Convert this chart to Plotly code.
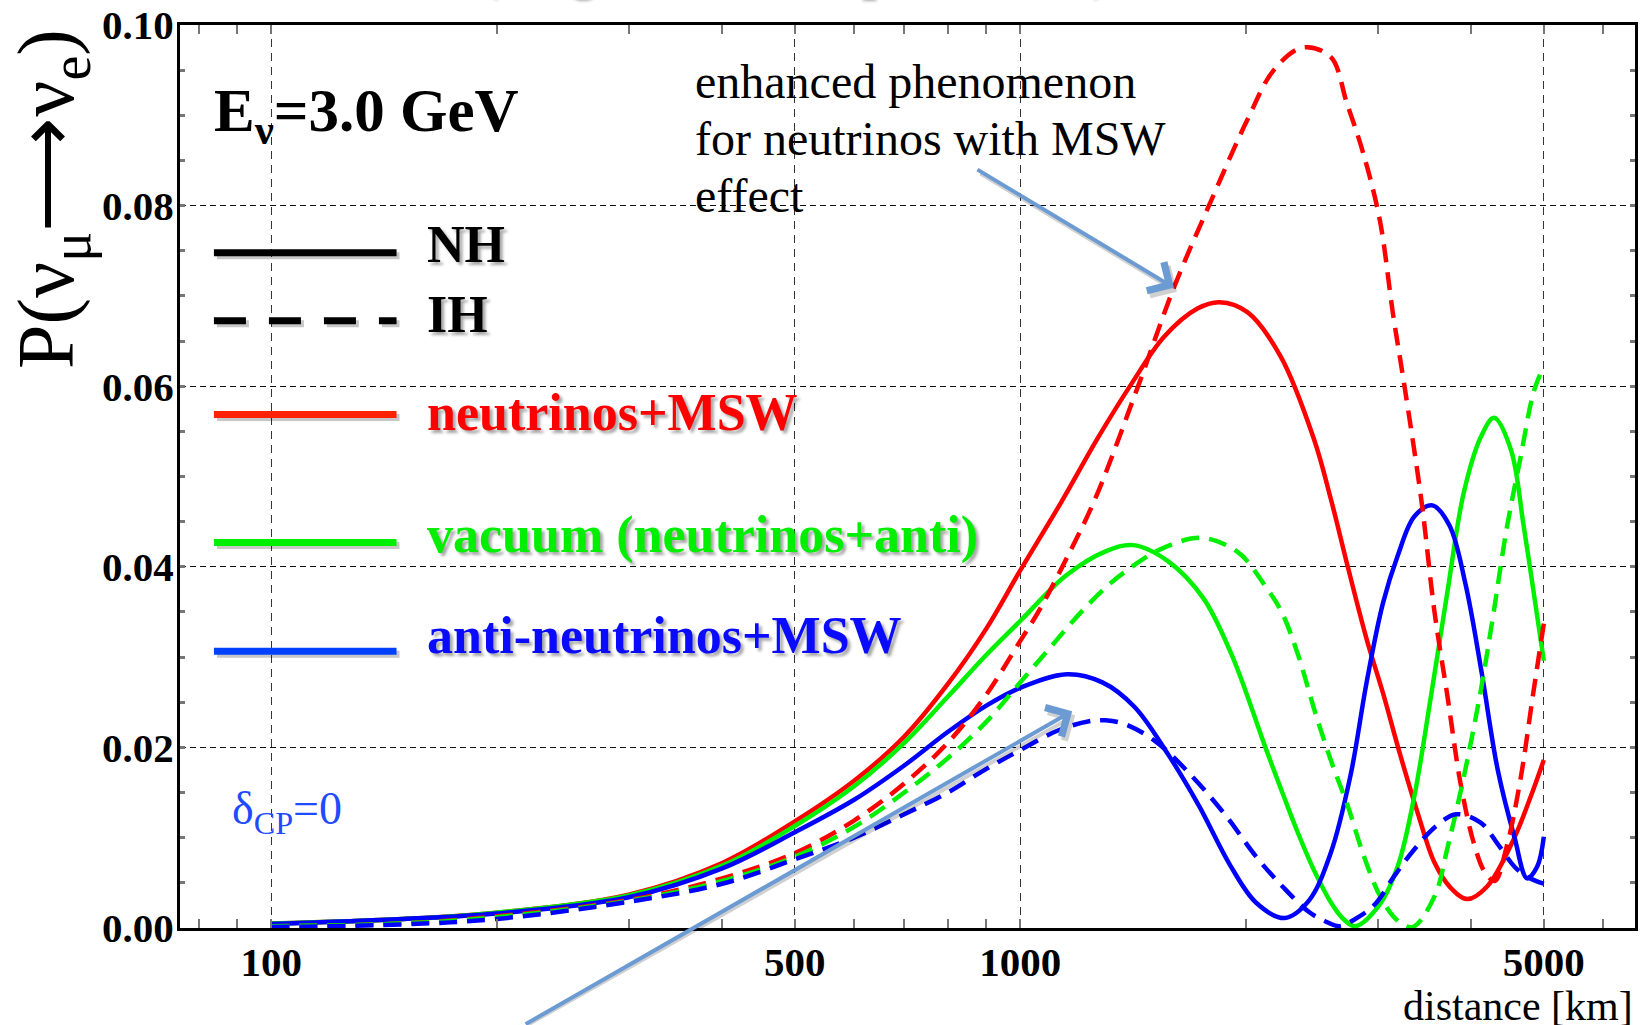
import plotly.graph_objects as go

# ---------------- data ----------------
x_tick_vals = [100, 500, 1000, 5000]
x_tick_text = ["100", "500", "1000", "5000"]
x_minor_vals = [80, 90, 200, 300, 400, 600, 700, 800, 900, 2000, 3000, 4000, 6000]
y_tick_vals = [0.0, 0.02, 0.04, 0.06, 0.08, 0.10]
y_tick_text = ["0.00", "0.02", "0.04", "0.06", "0.08", "0.10"]

# neutrinos + MSW, normal hierarchy (red solid)
red_nh_L = [100, 150, 200, 300, 400, 500, 600, 700, 800, 900, 1000, 1135, 1270, 1406, 1557,
            1724, 1845, 2010, 2226, 2465, 2600, 2737, 2900, 3050, 3220, 3400, 3570, 3750,
            3950, 4200, 4550, 4800, 5000]
red_nh_P = [0.0005, 0.0010, 0.0017, 0.0037, 0.0072, 0.0118, 0.0163, 0.0212, 0.0270, 0.0331,
            0.0396, 0.0472, 0.0543, 0.0602, 0.0655, 0.0686, 0.0693, 0.0682, 0.0633, 0.0542,
            0.0474, 0.0400, 0.0320, 0.0260, 0.0190, 0.0125, 0.0073, 0.0045, 0.0032, 0.0046,
            0.0097, 0.0145, 0.0186]

# neutrinos + MSW, inverted hierarchy (red dashed)
red_ih_L = [100, 150, 200, 300, 400, 500, 600, 700, 800, 900, 1000, 1057, 1146, 1257, 1435,
            1605, 1797, 2010, 2180, 2380, 2595, 2730, 2870, 3020, 3145, 3258, 3430, 3573,
            3719, 3873, 4035, 4170, 4300, 4460, 4650, 4840, 5000]
red_ih_P = [0.0002, 0.0005, 0.0013, 0.0031, 0.0055, 0.0083, 0.0119, 0.0160, 0.0205, 0.0258,
            0.0318, 0.0350, 0.0405, 0.0474, 0.0599, 0.0710, 0.0805, 0.0895, 0.0950, 0.0975,
            0.0965, 0.0913, 0.0858, 0.0784, 0.0680, 0.0600, 0.0475, 0.0350, 0.0256, 0.0159,
            0.0093, 0.0062, 0.0052, 0.0090, 0.0163, 0.0260, 0.0337]

# vacuum, normal hierarchy (green solid)
green_nh_L = [100, 150, 200, 300, 400, 500, 600, 700, 800, 900, 1000, 1150, 1300, 1415, 1576,
              1756, 1910, 2000, 2114, 2250, 2341, 2470, 2600, 2700, 2800, 3013, 3193, 3360,
              3533, 3719, 3909, 4121, 4290, 4518, 4700, 4900, 5000]
green_nh_P = [0.0005, 0.0010, 0.0017, 0.0036, 0.0069, 0.0113, 0.0157, 0.0205, 0.0256, 0.0302,
              0.0340, 0.0390, 0.0417, 0.0424, 0.0406, 0.0365, 0.0305, 0.0262, 0.0205, 0.0145,
              0.0108, 0.0063, 0.0028, 0.0010, 0.0002, 0.0025, 0.0069, 0.0147, 0.0256, 0.0373,
              0.0482, 0.0544, 0.0565, 0.0530, 0.0445, 0.0345, 0.0296]

# vacuum, inverted hierarchy (green dashed)
green_ih_L = [100, 150, 200, 300, 400, 500, 600, 700, 800, 900, 1000, 1100, 1203, 1300, 1377,
              1535, 1745, 1954, 2118, 2233, 2350, 2473, 2600, 2737, 2880, 3033, 3193, 3340,
              3573, 3719, 3909, 4121, 4286, 4462, 4652, 4852, 5000]
green_ih_P = [0.0002, 0.0005, 0.0012, 0.0030, 0.0052, 0.0079, 0.0112, 0.0150, 0.0188, 0.0228,
              0.0272, 0.0312, 0.0349, 0.0377, 0.0394, 0.0419, 0.0432, 0.0416, 0.0380, 0.0350,
              0.0302, 0.0240, 0.0185, 0.0135, 0.0078, 0.0033, 0.0008, 0.0001, 0.0035, 0.0089,
              0.0167, 0.0264, 0.0350, 0.0443, 0.0520, 0.0595, 0.0622]

# anti-neutrinos + MSW, normal hierarchy (blue solid)
blue_nh_L = [100, 150, 200, 300, 400, 500, 600, 700, 800, 900, 1000, 1155, 1287, 1420, 1576,
             1733, 1905, 2065, 2253, 2427, 2597, 2760, 2900, 3050, 3190, 3360, 3550, 3740,
             3930, 4130, 4340, 4570, 4750, 4900, 5000]
blue_nh_P = [0.00045, 0.0010, 0.0016, 0.0034, 0.0066, 0.0106, 0.0142, 0.0180, 0.0217, 0.0246,
             0.0266, 0.0281, 0.0272, 0.0245, 0.0192, 0.0135, 0.0070, 0.0028, 0.0011, 0.0030,
             0.0083, 0.0169, 0.0272, 0.0360, 0.0412, 0.0456, 0.0468, 0.0446, 0.0381, 0.0283,
             0.0175, 0.0100, 0.0055, 0.0068, 0.0101]

# anti-neutrinos + MSW, inverted hierarchy (blue dashed)
blue_ih_L = [100, 150, 200, 300, 400, 500, 600, 700, 800, 900, 1000, 1125, 1236, 1300, 1377,
             1514, 1687, 1879, 2065, 2239, 2427, 2560, 2667, 2800, 2973, 3160, 3357, 3592,
             3820, 4113, 4340, 4580, 4769, 5000]
blue_ih_P = [0.0001, 0.0004, 0.0010, 0.0029, 0.0049, 0.0076, 0.0100, 0.0126, 0.0150, 0.0176,
             0.0197, 0.0219, 0.0229, 0.0230, 0.0226, 0.0207, 0.0170, 0.0125, 0.0079, 0.0046,
             0.0018, 0.0007, 0.0002, 0.0010, 0.0026, 0.0058, 0.0087, 0.0113, 0.0126, 0.0117,
             0.0093, 0.0067, 0.0056, 0.0049]

legend_labels = ["NH", "IH", "neutrinos+MSW", "vacuum (neutrinos+anti)", "anti-neutrinos+MSW"]
note_lines = ["enhanced phenomenon", "for neutrinos with MSW", "effect"]

# ---------------- layout geometry ----------------
W, H = 1640, 1025
ML, MR, MT, MB = 180, 2, 24, 97
PW = W - ML - MR
PH = H - MT - MB


def fx(px):
    return (px - ML) / PW


def fy(py):
    return (H - MB - py) / PH


SERIF = "Liberation Serif"
RED, GREEN, BLUE = "#FF0000", "#00F000", "#0000FF"
DASH = "18px,10px"

fig = go.Figure()

series = [
    (red_nh_L, red_nh_P, RED, "solid"),
    (green_nh_L, green_nh_P, GREEN, "solid"),
    (blue_nh_L, blue_nh_P, BLUE, "solid"),
    (red_ih_L, red_ih_P, RED, DASH),
    (green_ih_L, green_ih_P, GREEN, DASH),
    (blue_ih_L, blue_ih_P, BLUE, DASH),
]
for xs, ys, col, dash in series:
    fig.add_trace(go.Scatter(
        x=xs, y=ys, mode="lines",
        line=dict(color=col, width=4.5, dash=dash, shape="spline", smoothing=1.0),
        showlegend=False, hoverinfo="skip"))

tickfont = dict(family=SERIF, size=41, color="black", weight="bold")

fig.update_layout(
    width=W, height=H,
    margin=dict(l=ML, r=MR, t=MT, b=MB, pad=0),
    paper_bgcolor="white", plot_bgcolor="white",
    showlegend=False,
    xaxis=dict(
        type="log", range=[1.8782, 3.8207],
        tickmode="array", tickvals=x_tick_vals, ticktext=x_tick_text,
        tickfont=tickfont, ticklabelstandoff=-4,
        showgrid=True, gridcolor="#333333", gridwidth=1, griddash="8px,6px",
        showline=True, linecolor="black", linewidth=3, mirror="allticks",
        ticks="inside", ticklen=9, tickcolor="#777777", tickwidth=1.5,
        minor=dict(tickvals=x_minor_vals, ticks="inside", ticklen=9,
                   tickcolor="#777777", tickwidth=1.5, showgrid=False),
        zeroline=False,
    ),
    yaxis=dict(
        range=[0, 0.1],
        tickmode="array", tickvals=y_tick_vals, ticktext=y_tick_text,
        tickfont=tickfont, ticklabelstandoff=-5,
        showgrid=True, gridcolor="#111111", gridwidth=1.2, griddash="6px,4px",
        showline=True, linecolor="black", linewidth=3, mirror="allticks",
        ticks="inside", ticklen=5, tickcolor="#777777", tickwidth=3,
        minor=dict(dtick=0.005, ticks="inside", ticklen=5,
                   tickcolor="#777777", tickwidth=3, showgrid=False),
        zeroline=False,
    ),
)

shadow = "3px 3px 3px rgba(0,0,0,0.35)"
annotations = []
shapes = []

# cut-off orange title at very top (only its lower edge is visible)
annotations.append(dict(
    text="(long baseline experiments)", xref="paper", yref="paper",
    x=fx(794), y=fy(-1), xanchor="center", yanchor="bottom", showarrow=False,
    font=dict(family=SERIF, size=54, color="#F39019", weight="bold", shadow=shadow)))

# y-axis title
annotations.append(dict(
    text="P(ν<sub>μ</sub>⟶ν<sub>e</sub>)", xref="paper", yref="paper",
    x=fx(52), y=fy(198), xanchor="center", yanchor="middle", textangle=-90,
    showarrow=False, font=dict(family=SERIF, size=80, color="black")))

# x-axis title
annotations.append(dict(
    text="distance [km]", xref="paper", yref="paper",
    x=fx(1638), y=fy(1006), xanchor="right", yanchor="middle", showarrow=False,
    font=dict(family=SERIF, size=42, color="black")))

# energy label
annotations.append(dict(
    text="E<sub>ν</sub>=3.0 GeV", xref="paper", yref="paper",
    x=fx(212), y=fy(114), xanchor="left", yanchor="middle", showarrow=False,
    font=dict(family=SERIF, size=61, color="black", weight="bold")))

# delta CP label
annotations.append(dict(
    text="δ<sub>CP</sub>=0", xref="paper", yref="paper",
    x=fx(230), y=fy(812), xanchor="left", yanchor="middle", showarrow=False,
    font=dict(family=SERIF, size=46, color="#1E4BFF")))

# explanatory note, one line each for line-spacing control
for i, line in enumerate(note_lines):
    annotations.append(dict(
        text=line, xref="paper", yref="paper",
        x=fx(694), y=fy(81 + 57 * i), xanchor="left", yanchor="middle", showarrow=False,
        font=dict(family=SERIF, size=48, color="black")))

# custom legend: (line y px, line colour, dash, text colour, text offset)
leg_rows = [
    (252, "#000000", "solid", "#000000", -8),
    (320, "#000000", "32px,23px", "#000000", -6),
    (414, "#FF2200", "solid", "#FF0000", -2),
    (542, "#00EE00", "solid", "#00EE00", -7),
    (651, "#0040FF", "solid", "#0A0AFF", -16),
]
for (py, lcol, ldash, tcol, toff), label in zip(leg_rows, legend_labels):
    shapes.append(dict(type="line", xref="paper", yref="paper",
                       x0=fx(217), x1=fx(400), y0=fy(py + 3), y1=fy(py + 3),
                       line=dict(color="rgba(0,0,0,0.22)", width=7, dash=ldash)))
    shapes.append(dict(type="line", xref="paper", yref="paper",
                       x0=fx(214), x1=fx(397), y0=fy(py), y1=fy(py),
                       line=dict(color=lcol, width=7, dash=ldash)))
    annotations.append(dict(
        text=label, xref="paper", yref="paper",
        x=fx(426), y=fy(py + toff), xanchor="left", yanchor="middle", showarrow=False,
        font=dict(family=SERIF, size=52, color=tcol, weight="bold", shadow=shadow)))

# arrows (shadow first, then arrow)
ARROW = "#6B9BD2"
arrows = [((1176, 287), (978, 168)), ((1074, 711), (526, 1032))]
for (hx, hy), (tx, ty) in arrows:
    annotations.append(dict(
        text="", xref="paper", yref="paper", x=fx(hx + 3), y=fy(hy + 4),
        ax=tx - hx, ay=ty - hy, axref="pixel", ayref="pixel",
        showarrow=True, arrowhead=4, arrowsize=1.6, arrowwidth=4,
        arrowcolor="rgba(0,0,0,0.18)", standoff=0, startstandoff=0))
    annotations.append(dict(
        text="", xref="paper", yref="paper", x=fx(hx), y=fy(hy),
        ax=tx - hx, ay=ty - hy, axref="pixel", ayref="pixel",
        showarrow=True, arrowhead=4, arrowsize=1.6, arrowwidth=4,
        arrowcolor=ARROW, standoff=0, startstandoff=0))

fig.update_layout(annotations=annotations, shapes=shapes)

fig.write_html("out.html")
